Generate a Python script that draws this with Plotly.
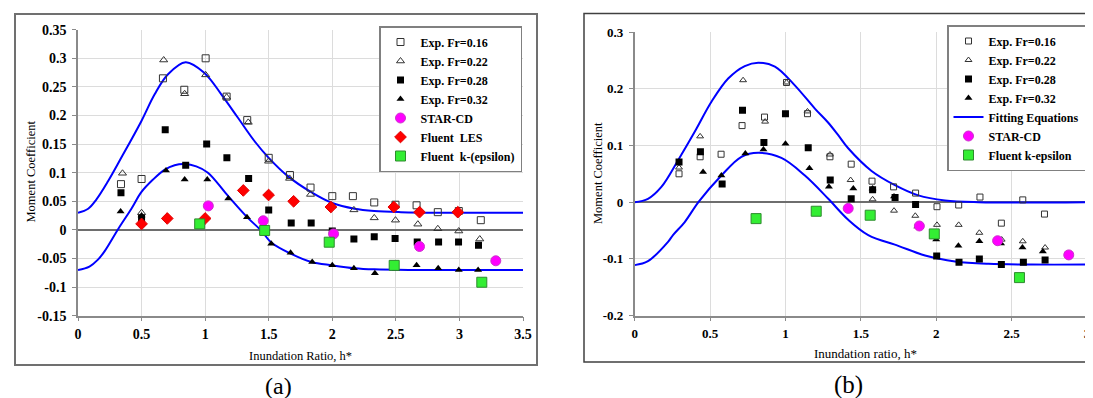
import plotly.graph_objects as go

W, H = 1093, 398

# ---------------- data: panel (a) ----------------
a_x16 = [0.338, 0.50, 0.668, 0.836, 1.004, 1.169, 1.331, 1.50, 1.667, 1.829, 2.0, 2.162, 2.33, 2.497, 2.663, 2.83, 2.995, 3.168]
a_y16 = [0.080, 0.089, 0.265, 0.245, 0.300, 0.233, 0.192, 0.126, 0.096, 0.074, 0.059, 0.059, 0.048, 0.044, 0.043, 0.031, 0.033, 0.017]
a_x22 = [0.35, 0.50, 0.674, 0.839, 1.004, 1.169, 1.339, 1.499, 1.664, 1.829, 2.0, 2.17, 2.33, 2.497, 2.673, 2.83, 2.995, 3.16]
a_y22 = [0.099, 0.030, 0.297, 0.238, 0.271, 0.232, 0.188, 0.120, 0.090, 0.062, 0.042, 0.035, 0.021, 0.017, 0.010, 0.002, -0.002, -0.016]
a_x28 = [0.338, 0.50, 0.686, 0.847, 1.012, 1.171, 1.342, 1.50, 1.677, 1.834, 2.0, 2.17, 2.33, 2.494, 2.668, 2.836, 2.993, 3.15]
a_y28 = [0.065, 0.020, 0.175, 0.113, 0.150, 0.126, 0.090, 0.035, 0.012, 0.012, -0.002, -0.016, -0.012, -0.015, -0.021, -0.021, -0.021, -0.027]
a_x32 = [0.335, 0.50, 0.692, 0.839, 1.017, 1.182, 1.329, 1.52, 1.672, 1.842, 2.0, 2.17, 2.335, 2.50, 2.663, 2.833, 2.995, 3.147]
a_y32 = [0.032, 0.025, 0.104, 0.088, 0.088, 0.055, 0.022, -0.024, -0.040, -0.056, -0.062, -0.067, -0.076, -0.068, -0.062, -0.067, -0.070, -0.070]
a_star_x = [1.025, 1.457, 2.01, 2.686, 3.286]
a_star_y = [0.042, 0.016, -0.007, -0.029, -0.054]
a_les_x = [0.50, 0.702, 1.0, 1.30, 1.499, 1.696, 1.989, 2.484, 2.686, 2.987]
a_les_y = [0.0105, 0.020, 0.020, 0.069, 0.061, 0.050, 0.040, 0.040, 0.031, 0.031]
a_ke_x = [0.957, 1.468, 1.976, 2.487, 3.176]
a_ke_y = [0.0105, -0.001, -0.0215, -0.062, -0.0915]
a_fitU_x = [0, 0.08, 0.144, 0.236, 0.34, 0.498, 0.603, 0.708, 0.847, 0.996, 1.127, 1.258, 1.389, 1.50, 1.65, 1.834, 2.0, 2.175, 2.33, 2.54, 2.83, 3.5]
a_fitU_y = [0.030, 0.037, 0.053, 0.085, 0.126, 0.190, 0.237, 0.272, 0.293, 0.274, 0.237, 0.196, 0.155, 0.126, 0.094, 0.066, 0.047, 0.037, 0.033, 0.031, 0.030, 0.030]
a_fitL_x = [0, 0.09, 0.157, 0.21, 0.32, 0.42, 0.498, 0.59, 0.68, 0.76, 0.839, 0.93, 1.022, 1.17, 1.336, 1.44, 1.52, 1.677, 1.834, 2.0, 2.175, 2.33, 2.6, 3.5]
a_fitL_y = [-0.070, -0.064, -0.052, -0.037, 0.003, 0.037, 0.066, 0.088, 0.105, 0.113, 0.115, 0.111, 0.100, 0.062, 0.021, -0.001, -0.022, -0.042, -0.056, -0.062, -0.067, -0.069, -0.070, -0.070]

# ---------------- data: panel (b) ----------------
b_x16 = [0.294, 0.434, 0.573, 0.712, 0.861, 1.007, 1.146, 1.295, 1.436, 1.574, 1.717, 1.863, 2.005, 2.149, 2.29, 2.432, 2.574, 2.718]
b_y16 = [0.050, 0.080, 0.0845, 0.135, 0.150, 0.211, 0.156, 0.080, 0.067, 0.037, 0.027, 0.016, -0.008, -0.005, 0.009, -0.037, 0.004, -0.021]
b_x22 = [0.294, 0.434, 0.719, 0.865, 1.007, 1.146, 1.295, 1.432, 1.578, 1.72, 1.861, 2.005, 2.149, 2.286, 2.434, 2.574, 2.722]
b_y22 = [0.061, 0.116, 0.215, 0.142, 0.211, 0.160, 0.084, 0.039, 0.005, -0.015, -0.024, -0.040, -0.040, -0.054, -0.066, -0.069, -0.080]
b_x28 = [0.294, 0.436, 0.58, 0.715, 0.857, 1.0, 1.151, 1.297, 1.436, 1.578, 1.727, 1.863, 2.003, 2.151, 2.286, 2.432, 2.578, 2.722]
b_y28 = [0.071, 0.089, 0.032, 0.162, 0.105, 0.156, 0.096, 0.039, 0.006, 0.022, 0.008, -0.004, -0.095, -0.106, -0.100, -0.110, -0.106, -0.102]
b_x32 = [0.4535, 0.575, 0.734, 0.854, 1.0, 1.159, 1.288, 1.45, 1.578, 1.72, 1.875, 2.0, 2.147, 2.286, 2.43, 2.572, 2.707]
b_y32 = [0.053, 0.047, 0.086, 0.093, 0.103, 0.060, 0.027, 0.024, 0.024, 0.010, -0.043, -0.066, -0.077, -0.069, -0.073, -0.080, -0.087]
b_star_x = [1.416, 1.888, 2.407, 2.879]
b_star_y = [-0.011, -0.042, -0.068, -0.093]
b_ke_x = [0.805, 1.204, 1.562, 1.987, 2.552]
b_ke_y = [-0.029, -0.016, -0.023, -0.056, -0.133]
b_fitU_x = [0, 0.088, 0.177, 0.288, 0.398, 0.509, 0.62, 0.73, 0.819, 0.93, 1.062, 1.195, 1.284, 1.35, 1.416, 1.571, 1.726, 1.881, 2.058, 2.28, 3.0]
b_fitU_y = [0.0, 0.006, 0.027, 0.074, 0.124, 0.177, 0.218, 0.240, 0.246, 0.239, 0.206, 0.165, 0.140, 0.118, 0.095, 0.055, 0.030, 0.012, 0.003, 0.0, 0.0]
b_fitL_x = [0, 0.088, 0.221, 0.254, 0.332, 0.425, 0.575, 0.708, 0.819, 0.973, 1.129, 1.284, 1.416, 1.549, 1.748, 1.926, 2.125, 2.346, 2.632, 3.0]
b_fitL_y = [-0.111, -0.104, -0.070, -0.058, -0.035, 0.001, 0.047, 0.080, 0.087, 0.078, 0.047, 0.006, -0.031, -0.058, -0.077, -0.094, -0.1045, -0.1087, -0.110, -0.110]

# tick labels
a_xticks = [0, 0.5, 1, 1.5, 2, 2.5, 3, 3.5]
a_xtext = ["0", "0.5", "1", "1.5", "2", "2.5", "3", "3.5"]
a_yticks = [-0.15, -0.1, -0.05, 0, 0.05, 0.1, 0.15, 0.2, 0.25, 0.3, 0.35]
a_ytext = ["-0.15", "-0.1", "-0.05", "0", "0.05", "0.1", "0.15", "0.2", "0.25", "0.3", "0.35"]
b_xticks = [0, 0.5, 1, 1.5, 2, 2.5, 3]
b_xtext = ["0", "0.5", "1", "1.5", "2", "2.5", "3"]
b_yticks = [-0.2, -0.1, 0, 0.1, 0.2, 0.3]
b_ytext = ["-0.2", "-0.1", "0", "0.1", "0.2", "0.3"]

SERIF = "Liberation Serif"
BLUE = "#0000FF"

fig = go.Figure()


def px(v):
    return v / W


def py(v):
    return 1 - v / H


def bold(lst):
    return ["<b>" + s + "</b>" for s in lst]


def pts(x, y, name, symbol, size, color, lcolor, lw, xa, ya, legend, rank, show=True):
    fig.add_trace(go.Scatter(
        x=x, y=y, mode="markers", name=name, xaxis=xa, yaxis=ya,
        legend=legend, legendrank=rank, showlegend=show,
        marker=dict(symbol=symbol, size=size, color=color,
                    line=dict(color=lcolor, width=lw))))


def curve(x, y, name, xa, ya, legend, rank, show):
    fig.add_trace(go.Scatter(
        x=x, y=y, mode="lines", name=name, xaxis=xa, yaxis=ya,
        legend=legend, legendrank=rank, showlegend=show,
        line=dict(color=BLUE, width=2, shape="spline", smoothing=1.0)))


# panel (a)
curve(a_fitU_x, a_fitU_y, "Fitting Equations", "x", "y", "legend", 50, False)
curve(a_fitL_x, a_fitL_y, "Fitting Equations", "x", "y", "legend", 51, False)
pts(a_x16, a_y16, "Exp. Fr=0.16", "square-open", 7, "#333333", "#333333", 1, "x", "y", "legend", 1)
pts(a_x22, a_y22, "Exp. Fr=0.22", "triangle-up-open", 7, "#333333", "#333333", 1, "x", "y", "legend", 2)
pts(a_x28, a_y28, "Exp. Fr=0.28", "square", 7, "black", "black", 0, "x", "y", "legend", 3)
pts(a_x32, a_y32, "Exp. Fr=0.32", "triangle-up", 7, "black", "black", 0, "x", "y", "legend", 4)
pts(a_star_x, a_star_y, "STAR-CD", "circle", 10, "#FF00FF", "#CC33CC", 1, "x", "y", "legend", 5)
pts(a_les_x, a_les_y, "Fluent  LES", "diamond", 9, "#FF0000", "#E00000", 1, "x", "y", "legend", 6)
pts(a_ke_x, a_ke_y, "Fluent  k-(epsilon)", "square", 10, "#33EE33", "#2E8B2E", 1, "x", "y", "legend", 7)

# panel (b)
curve(b_fitU_x, b_fitU_y, "Fitting Equations", "x2", "y2", "legend2", 5, True)
curve(b_fitL_x, b_fitL_y, "Fitting Equations", "x2", "y2", "legend2", 50, False)
pts(b_x16, b_y16, "Exp. Fr=0.16", "square-open", 6, "#333333", "#333333", 1, "x2", "y2", "legend2", 1)
pts(b_x22, b_y22, "Exp. Fr=0.22", "triangle-up-open", 6, "#333333", "#333333", 1, "x2", "y2", "legend2", 2)
pts(b_x28, b_y28, "Exp. Fr=0.28", "square", 7, "black", "black", 0, "x2", "y2", "legend2", 3)
pts(b_x32, b_y32, "Exp. Fr=0.32", "triangle-up", 7, "black", "black", 0, "x2", "y2", "legend2", 4)
pts(b_star_x, b_star_y, "STAR-CD", "circle", 10, "#FF00FF", "#CC33CC", 1, "x2", "y2", "legend2", 6)
pts(b_ke_x, b_ke_y, "Fluent k-epsilon", "square", 10, "#33EE33", "#2E8B2E", 1, "x2", "y2", "legend2", 7)

tickfont_a = dict(family=SERIF, size=14, color="black")
tickfont_b = dict(family=SERIF, size=13, color="black")
common = dict(showgrid=True, gridcolor="#dcdcdc", gridwidth=1, showline=True,
              linecolor="#8a8a8a", linewidth=1.5, ticks="outside", ticklen=4,
              tickcolor="#8a8a8a", tickmode="array", fixedrange=True,
              automargin=False)

legfont = dict(family=SERIF, size=12, color="black", weight="bold")
titlefont = dict(family=SERIF, size=12.5, color="black")

fig.update_layout(
    template="none",
    width=W, height=H,
    margin=dict(l=0, r=0, t=0, b=0, pad=0, autoexpand=False),
    font=dict(family=SERIF, color="black"),
    paper_bgcolor="white", plot_bgcolor="white",
    xaxis=dict(domain=[px(70), px(515)], range=[0, 3.5], anchor="y",
               tickvals=a_xticks, ticktext=bold(a_xtext), tickfont=tickfont_a,
               zeroline=False, ticklabelstandoff=1, **common),
    yaxis=dict(domain=[py(307.7), py(21.7)], range=[-0.15, 0.35], anchor="x",
               tickvals=a_yticks, ticktext=bold(a_ytext), tickfont=tickfont_a,
               zeroline=True, zerolinecolor="#6e6e6e", zerolinewidth=1.5,
               ticklabelstandoff=3, **common),
    xaxis2=dict(domain=[px(626.7), px(1079)], range=[0, 3], anchor="y2",
                tickvals=b_xticks, ticktext=bold(b_xtext), tickfont=tickfont_b,
                zeroline=False, ticklabelstandoff=1, **common),
    yaxis2=dict(domain=[py(307.6), py(24)], range=[-0.2, 0.3], anchor="x2",
                tickvals=b_yticks, ticktext=bold(b_ytext), tickfont=tickfont_b,
                zeroline=True, zerolinecolor="#6e6e6e", zerolinewidth=1.5,
                ticklabelstandoff=3, **common),
    legend=dict(x=px(514), xanchor="right", y=py(18), yanchor="top",
                bgcolor="white", bordercolor="#808080", borderwidth=1.5,
                font=legfont, tracegroupgap=0, traceorder="normal"),
    legend2=dict(x=px(1078), xanchor="right", y=py(17), yanchor="top",
                 bgcolor="white", bordercolor="#808080", borderwidth=1.5,
                 font=legfont, tracegroupgap=0, traceorder="normal"),
    shapes=[
        dict(type="rect", xref="paper", yref="paper",
             x0=px(7), x1=px(529), y0=py(357), y1=py(6),
             line=dict(color="#707070", width=2), layer="below"),
        dict(type="rect", xref="paper", yref="paper",
             x0=px(576), x1=1.01, y0=py(354), y1=py(5.5),
             line=dict(color="#404040", width=1.5), layer="below"),
    ],
    annotations=[
        dict(text="Moment Coefficient", x=px(22.5), y=py(164), xref="paper", yref="paper",
             xanchor="center", yanchor="middle",
             textangle=-90, showarrow=False, font=titlefont),
        dict(text="Inundation Ratio, h*", x=px(292), y=py(347.5), xref="paper", yref="paper",
             xanchor="center", yanchor="middle", showarrow=False, font=titlefont),
        dict(text="Moment Coefficient", x=px(590), y=py(165), xref="paper", yref="paper",
             xanchor="center", yanchor="middle",
             textangle=-90, showarrow=False, font=titlefont),
        dict(text="Inundation ratio, h*", x=px(857), y=py(345.5), xref="paper", yref="paper",
             xanchor="center", yanchor="middle", showarrow=False,
             font=dict(family=SERIF, size=13, color="black")),
        dict(text="(a)", x=px(270), y=py(378), xref="paper", yref="paper",
             xanchor="center", yanchor="middle", showarrow=False,
             font=dict(family=SERIF, size=24, color="black")),
        dict(text="(b)", x=px(840), y=py(377), xref="paper", yref="paper",
             xanchor="center", yanchor="middle", showarrow=False,
             font=dict(family=SERIF, size=25, color="black")),
    ],
)

fig.write_html("out.html")
